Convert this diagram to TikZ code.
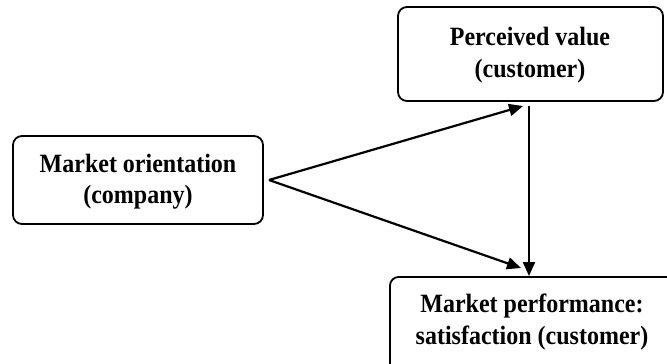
\documentclass[tikz,border=0pt]{standalone}
\usepackage{fontspec}
\setmainfont{Liberation Serif}
\usetikzlibrary{arrows.meta}
\begin{document}
\begin{tikzpicture}[x=1pt,y=-1pt,
  txt/.style={align=center,font=\bfseries\fontsize{24}{28.5}\selectfont,yscale=1.1},
  box/.style={draw,line width=1.8pt,rounded corners=9pt,inner sep=0pt},
  arr/.style={line width=2.2pt,-{Triangle[length=14pt,width=12pt]}}]
\useasboundingbox (0,0) rectangle (667,364);
\clip (0,0) rectangle (667,364);
\node[box,minimum width=250pt,minimum height=88pt] (mo) at (138,180) {};
\node[txt] (mot) at (138,182) {Market orientation\\(company)};
\node[box,minimum width=265pt,minimum height=94pt] (pv) at (530.5,54) {};
\node[txt] (pvt) at (530,55) {Perceived value\\(customer)};
\node[box,minimum width=286pt,minimum height=97pt,anchor=north west] (mp) at (389,276) {};
\node[txt] (mpt) at (532,322) {Market performance:\\satisfaction (customer)};
\coordinate (apex) at (269,180);
\coordinate (tip1) at (523,106);
\coordinate (tip2) at (521,268);
\coordinate (vtop) at (529,106);
\draw[arr] (apex) -- (tip1);
\draw[arr] (apex) -- (tip2);
\draw[arr] (vtop) -- (vtop |- mp.north);
\end{tikzpicture}
\end{document}
